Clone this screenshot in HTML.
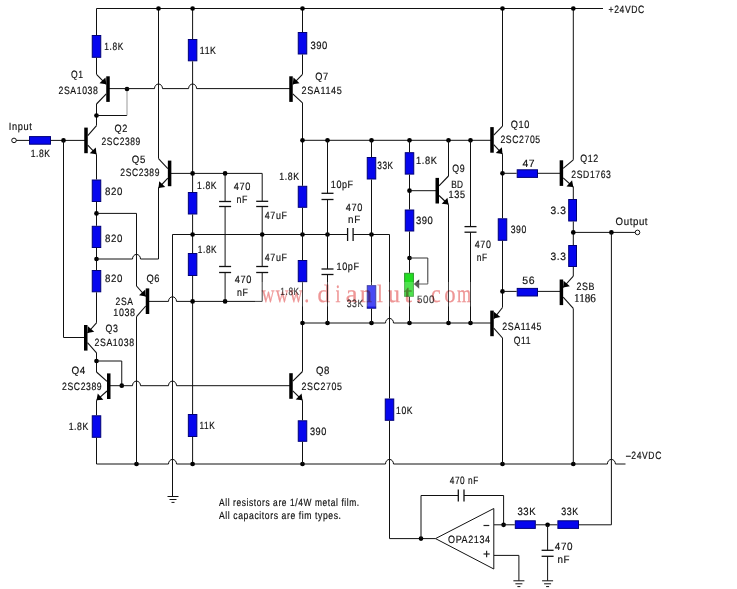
<!DOCTYPE html>
<html><head><meta charset="utf-8"><style>
html,body{margin:0;padding:0;background:#fff;}
body{width:737px;height:589px;overflow:hidden;}
svg{display:block;}
text{text-rendering:geometricPrecision;}

</style></head><body>
<svg width="737" height="589" viewBox="0 0 737 589">
<rect width="737" height="589" fill="#fff"/>
<polyline points="96.5,8.5 603,8.5" fill="none" stroke="#111" stroke-width="1.0"/>
<polyline points="96.5,8.5 96.5,35" fill="none" stroke="#111" stroke-width="1.0"/>
<rect x="92.25" y="35.5" width="8.5" height="21.799999999999997" fill="#0606ee" stroke="#000078" stroke-width="1"/>
<polyline points="96.5,57.8 96.5,74.3" fill="none" stroke="#111" stroke-width="1.0"/>
<polyline points="96.5,104 96.5,125.6" fill="none" stroke="#111" stroke-width="1.0"/>
<circle cx="96.5" cy="115.5" r="2.35" fill="#000"/>
<polyline points="96.5,115.5 127,115.5" fill="none" stroke="#111" stroke-width="1.0"/>
<polyline points="127,115.5 127,89" fill="none" stroke="#999" stroke-width="1.0"/>
<circle cx="127" cy="89" r="2.35" fill="#000"/>
<polyline points="108,88.6 154.5,88.6" fill="none" stroke="#111" stroke-width="1.0"/>
<polyline points="162.5,88.6 188.6,88.6" fill="none" stroke="#111" stroke-width="1.0"/>
<polyline points="196.6,88.6 291,88.6" fill="none" stroke="#111" stroke-width="1.0"/>
<path d="M154.5,88.6 A4,4.6 0 0 1 162.5,88.6" fill="none" stroke="#111" stroke-width="1"/>
<path d="M188.6,88.6 A4,4.6 0 0 1 196.6,88.6" fill="none" stroke="#111" stroke-width="1"/>
<polyline points="158.5,8.5 158.5,158.6" fill="none" stroke="#111" stroke-width="1.0"/>
<polyline points="192.6,8.5 192.6,39" fill="none" stroke="#111" stroke-width="1.0"/>
<rect x="188.35" y="39.5" width="8.5" height="21.299999999999997" fill="#0606ee" stroke="#000078" stroke-width="1"/>
<polyline points="192.6,61.3 192.6,192" fill="none" stroke="#111" stroke-width="1.0"/>
<rect x="188.35" y="192.5" width="8.5" height="21.5" fill="#0606ee" stroke="#000078" stroke-width="1"/>
<polyline points="192.6,214.5 192.6,253" fill="none" stroke="#111" stroke-width="1.0"/>
<rect x="188.35" y="253.5" width="8.5" height="22" fill="#0606ee" stroke="#000078" stroke-width="1"/>
<polyline points="192.6,276 192.6,414" fill="none" stroke="#111" stroke-width="1.0"/>
<rect x="188.35" y="414.5" width="8.5" height="22" fill="#0606ee" stroke="#000078" stroke-width="1"/>
<polyline points="192.6,437 192.6,464.0" fill="none" stroke="#111" stroke-width="1.0"/>
<polyline points="96.5,154.3 96.5,179.5" fill="none" stroke="#111" stroke-width="1.0"/>
<rect x="92.25" y="180.0" width="8.5" height="21.5" fill="#0606ee" stroke="#000078" stroke-width="1"/>
<polyline points="96.5,202 96.5,225.8" fill="none" stroke="#111" stroke-width="1.0"/>
<rect x="92.25" y="226.3" width="8.5" height="21.19999999999999" fill="#0606ee" stroke="#000078" stroke-width="1"/>
<polyline points="96.5,248 96.5,270" fill="none" stroke="#111" stroke-width="1.0"/>
<rect x="92.25" y="270.5" width="8.5" height="21.30000000000001" fill="#0606ee" stroke="#000078" stroke-width="1"/>
<polyline points="96.5,292.3 96.5,322.8" fill="none" stroke="#111" stroke-width="1.0"/>
<circle cx="96.5" cy="213.4" r="2.35" fill="#000"/>
<circle cx="96.5" cy="259.0" r="2.35" fill="#000"/>
<polyline points="96.5,213.4 136.5,213.4 136.5,286" fill="none" stroke="#111" stroke-width="1.0"/>
<polyline points="96.5,259.0 132.5,259.0" fill="none" stroke="#111" stroke-width="1.0"/>
<polyline points="140.5,259.0 158.5,259.0" fill="none" stroke="#111" stroke-width="1.0"/>
<path d="M132.5,259.0 A4,4.6 0 0 1 140.5,259.0" fill="none" stroke="#111" stroke-width="1"/>
<polyline points="158.5,259.0 158.5,188" fill="none" stroke="#111" stroke-width="1.0"/>
<circle cx="14" cy="140.4" r="2.3" fill="#fff" stroke="#111" stroke-width="1"/>
<polyline points="16.3,140.4 29,140.4" fill="none" stroke="#111" stroke-width="1.0"/>
<rect x="29.5" y="136.6" width="21" height="7.6" fill="#0606ee" stroke="#000078" stroke-width="1"/>
<polyline points="51,140.4 86,140.4" fill="none" stroke="#111" stroke-width="1.0"/>
<circle cx="63.5" cy="140.4" r="2.35" fill="#000"/>
<polyline points="63.5,140.4 63.5,337.5 85,337.5" fill="none" stroke="#111" stroke-width="1.0"/>
<polyline points="96.5,352.8 96.5,372" fill="none" stroke="#111" stroke-width="1.0"/>
<circle cx="96.5" cy="361" r="2.35" fill="#000"/>
<polyline points="96.5,361 121.75,361 121.75,385.7" fill="none" stroke="#111" stroke-width="1.0"/>
<circle cx="121.75" cy="385.7" r="2.35" fill="#000"/>
<polyline points="108.75,385.7 132.5,385.7" fill="none" stroke="#111" stroke-width="1.0"/>
<polyline points="140.5,385.7 168.5,385.7" fill="none" stroke="#111" stroke-width="1.0"/>
<polyline points="176.5,385.7 291,385.7" fill="none" stroke="#111" stroke-width="1.0"/>
<path d="M132.5,385.7 A4,4.6 0 0 1 140.5,385.7" fill="none" stroke="#111" stroke-width="1"/>
<path d="M168.5,385.7 A4,4.6 0 0 1 176.5,385.7" fill="none" stroke="#111" stroke-width="1"/>
<polyline points="96.5,400.3 96.5,415.3" fill="none" stroke="#111" stroke-width="1.0"/>
<rect x="92.25" y="415.8" width="8.5" height="21.5" fill="#0606ee" stroke="#000078" stroke-width="1"/>
<polyline points="96.5,437.8 96.5,464.0" fill="none" stroke="#111" stroke-width="1.0"/>
<polyline points="96.5,464.0 168.5,464.0" fill="none" stroke="#111" stroke-width="1.0"/>
<polyline points="176.5,464.0 385.5,464.0" fill="none" stroke="#111" stroke-width="1.0"/>
<polyline points="393.5,464.0 607.4,464.0" fill="none" stroke="#111" stroke-width="1.0"/>
<polyline points="615.4,464.0 625.5,464.0" fill="none" stroke="#111" stroke-width="1.0"/>
<path d="M168.5,464.0 A4,4.6 0 0 1 176.5,464.0" fill="none" stroke="#111" stroke-width="1"/>
<path d="M385.5,464.0 A4,4.6 0 0 1 393.5,464.0" fill="none" stroke="#111" stroke-width="1"/>
<path d="M607.4,464.0 A4,4.6 0 0 1 615.4,464.0" fill="none" stroke="#111" stroke-width="1"/>
<circle cx="136.5" cy="464.0" r="2.35" fill="#000"/>
<circle cx="192.6" cy="464.0" r="2.35" fill="#000"/>
<circle cx="302.5" cy="464.0" r="2.35" fill="#000"/>
<circle cx="502.5" cy="464.0" r="2.35" fill="#000"/>
<circle cx="573.3" cy="464.0" r="2.35" fill="#000"/>
<polyline points="136.5,316.6 136.5,464.0" fill="none" stroke="#111" stroke-width="1.0"/>
<polyline points="172.5,234.5 172.5,496.5" fill="none" stroke="#111" stroke-width="1.0"/>
<line x1="167.5" y1="496.5" x2="178.5" y2="496.5" stroke="#111" stroke-width="1"/>
<line x1="169.5" y1="499.5" x2="176.5" y2="499.5" stroke="#111" stroke-width="1"/>
<line x1="171.5" y1="502.4" x2="174.5" y2="502.4" stroke="#111" stroke-width="1"/>
<polyline points="147.5,301.4 168.5,301.4" fill="none" stroke="#111" stroke-width="1.0"/>
<polyline points="176.5,301.4 262.2,301.4" fill="none" stroke="#111" stroke-width="1.0"/>
<path d="M168.5,301.4 A4,4.6 0 0 1 176.5,301.4" fill="none" stroke="#111" stroke-width="1"/>
<circle cx="192.6" cy="301.4" r="2.35" fill="#000"/>
<circle cx="225.1" cy="301.4" r="2.35" fill="#000"/>
<polyline points="262.2,301.4 262.2,272.5" fill="none" stroke="#111" stroke-width="1.0"/>
<polyline points="169.6,173.4 262.2,173.4 262.2,201.3" fill="none" stroke="#111" stroke-width="1.0"/>
<circle cx="192.6" cy="173.4" r="2.35" fill="#000"/>
<circle cx="225.1" cy="173.4" r="2.35" fill="#000"/>
<polyline points="225.1,173.4 225.1,201.5" fill="none" stroke="#111" stroke-width="1.0"/>
<line x1="219.1" y1="201.5" x2="231.1" y2="201.5" stroke="#111" stroke-width="1.3"/>
<line x1="219.1" y1="206.5" x2="231.1" y2="206.5" stroke="#111" stroke-width="1.3"/>
<polyline points="225.1,206.5 225.1,266.5" fill="none" stroke="#111" stroke-width="1.0"/>
<line x1="219.1" y1="266.5" x2="231.1" y2="266.5" stroke="#111" stroke-width="1.3"/>
<line x1="219.1" y1="272.5" x2="231.1" y2="272.5" stroke="#111" stroke-width="1.3"/>
<polyline points="225.1,272.5 225.1,301.4" fill="none" stroke="#111" stroke-width="1.0"/>
<line x1="256.2" y1="201.3" x2="268.2" y2="201.3" stroke="#111" stroke-width="1.3"/>
<line x1="256.2" y1="206.5" x2="268.2" y2="206.5" stroke="#111" stroke-width="1.3"/>
<polyline points="262.2,206.5 262.2,266.5" fill="none" stroke="#111" stroke-width="1.0"/>
<line x1="256.2" y1="266.5" x2="268.2" y2="266.5" stroke="#111" stroke-width="1.3"/>
<line x1="256.2" y1="272.5" x2="268.2" y2="272.5" stroke="#111" stroke-width="1.3"/>
<polyline points="172.5,234.5 347.6,234.5" fill="none" stroke="#111" stroke-width="1.0"/>
<line x1="347.6" y1="228.0" x2="347.6" y2="241.0" stroke="#111" stroke-width="1.3"/>
<line x1="353.1" y1="228.0" x2="353.1" y2="241.0" stroke="#111" stroke-width="1.3"/>
<polyline points="353.1,234.5 389.5,234.5 389.5,398.5" fill="none" stroke="#111" stroke-width="1.0"/>
<circle cx="192.6" cy="234.5" r="2.35" fill="#000"/>
<circle cx="262.2" cy="234.5" r="2.35" fill="#000"/>
<circle cx="302.5" cy="234.5" r="2.35" fill="#000"/>
<circle cx="327.5" cy="234.5" r="2.35" fill="#000"/>
<circle cx="371.5" cy="234.5" r="2.35" fill="#000"/>
<rect x="385.25" y="399.0" width="8.5" height="21.30000000000001" fill="#0606ee" stroke="#000078" stroke-width="1"/>
<polyline points="389.5,420.8 389.5,538.6 435.5,538.6" fill="none" stroke="#111" stroke-width="1.0"/>
<circle cx="421" cy="538.6" r="2.35" fill="#000"/>
<polyline points="302.5,8.5 302.5,32" fill="none" stroke="#111" stroke-width="1.0"/>
<rect x="298.25" y="32.5" width="8.5" height="21.5" fill="#0606ee" stroke="#000078" stroke-width="1"/>
<polyline points="302.5,54.5 302.5,74.3" fill="none" stroke="#111" stroke-width="1.0"/>
<polyline points="302.5,102.8 302.5,185.8" fill="none" stroke="#111" stroke-width="1.0"/>
<rect x="298.25" y="186.3" width="8.5" height="21.0" fill="#0606ee" stroke="#000078" stroke-width="1"/>
<polyline points="302.5,207.8 302.5,260" fill="none" stroke="#111" stroke-width="1.0"/>
<rect x="298.25" y="260.5" width="8.5" height="21.19999999999999" fill="#0606ee" stroke="#000078" stroke-width="1"/>
<polyline points="302.5,282.2 302.5,371.5" fill="none" stroke="#111" stroke-width="1.0"/>
<polyline points="302.5,400.3 302.5,420.3" fill="none" stroke="#111" stroke-width="1.0"/>
<rect x="298.25" y="420.8" width="8.5" height="20.5" fill="#0606ee" stroke="#000078" stroke-width="1"/>
<polyline points="302.5,441.8 302.5,464.0" fill="none" stroke="#111" stroke-width="1.0"/>
<polyline points="302.5,140.3 491,140.3" fill="none" stroke="#111" stroke-width="1.0"/>
<circle cx="302.5" cy="140.3" r="2.35" fill="#000"/>
<circle cx="327.5" cy="140.3" r="2.35" fill="#000"/>
<circle cx="371.5" cy="140.3" r="2.35" fill="#000"/>
<circle cx="409.5" cy="140.3" r="2.35" fill="#000"/>
<circle cx="448.5" cy="140.3" r="2.35" fill="#000"/>
<circle cx="470.5" cy="140.3" r="2.35" fill="#000"/>
<polyline points="302.5,323.0 385.5,323.0" fill="none" stroke="#111" stroke-width="1.0"/>
<polyline points="393.5,323.0 491,323.0" fill="none" stroke="#111" stroke-width="1.0"/>
<path d="M385.5,323.0 A4,4.6 0 0 1 393.5,323.0" fill="none" stroke="#111" stroke-width="1"/>
<circle cx="302.5" cy="323.0" r="2.35" fill="#000"/>
<circle cx="327.5" cy="323.0" r="2.35" fill="#000"/>
<circle cx="371.5" cy="323.0" r="2.35" fill="#000"/>
<circle cx="409.5" cy="323.0" r="2.35" fill="#000"/>
<circle cx="448.5" cy="323.0" r="2.35" fill="#000"/>
<circle cx="470.5" cy="323.0" r="2.35" fill="#000"/>
<polyline points="327.5,140.3 327.5,193.3" fill="none" stroke="#111" stroke-width="1.0"/>
<line x1="321.5" y1="193.3" x2="333.5" y2="193.3" stroke="#111" stroke-width="1.3"/>
<line x1="321.5" y1="199.5" x2="333.5" y2="199.5" stroke="#111" stroke-width="1.3"/>
<polyline points="327.5,199.5 327.5,269" fill="none" stroke="#111" stroke-width="1.0"/>
<line x1="321.5" y1="269" x2="333.5" y2="269" stroke="#111" stroke-width="1.3"/>
<line x1="321.5" y1="274.5" x2="333.5" y2="274.5" stroke="#111" stroke-width="1.3"/>
<polyline points="327.5,274.5 327.5,323.0" fill="none" stroke="#111" stroke-width="1.0"/>
<polyline points="371.5,140.3 371.5,157" fill="none" stroke="#111" stroke-width="1.0"/>
<rect x="367.25" y="157.5" width="8.5" height="21.5" fill="#0606ee" stroke="#000078" stroke-width="1"/>
<polyline points="371.5,179.5 371.5,285.2" fill="none" stroke="#111" stroke-width="1.0"/>
<rect x="367.25" y="285.7" width="8.5" height="22.5" fill="#1c1cf0" stroke="#10108a" stroke-width="1"/>
<polyline points="371.5,308.7 371.5,323.0" fill="none" stroke="#111" stroke-width="1.0"/>
<polyline points="409.5,140.3 409.5,152.2" fill="none" stroke="#111" stroke-width="1.0"/>
<rect x="405.25" y="152.7" width="8.5" height="21.400000000000006" fill="#0606ee" stroke="#000078" stroke-width="1"/>
<polyline points="409.5,174.6 409.5,209.5" fill="none" stroke="#111" stroke-width="1.0"/>
<circle cx="409.5" cy="190.7" r="2.35" fill="#000"/>
<polyline points="409.5,190.7 436,190.7" fill="none" stroke="#111" stroke-width="1.0"/>
<rect x="405.25" y="210.0" width="8.5" height="21.0" fill="#0606ee" stroke="#000078" stroke-width="1"/>
<polyline points="409.5,231.5 409.5,272.8" fill="none" stroke="#111" stroke-width="1.0"/>
<circle cx="409.5" cy="258" r="2.35" fill="#000"/>
<rect x="404.6" y="273.3" width="8.8" height="23" fill="#22dd22" stroke="#2a9a2a" stroke-width="1"/>
<polyline points="409.5,296.8 409.5,323.0" fill="none" stroke="#111" stroke-width="1.0"/>
<polyline points="409.5,258 427.8,258 427.8,284 418,284" fill="none" stroke="#333" stroke-width="1.0"/>
<polygon points="413.8,284 419.2,279.2 419.2,288.8" fill="#333"/>
<polyline points="448.5,140.3 448.5,176" fill="none" stroke="#111" stroke-width="1.0"/>
<polyline points="448.5,204.5 448.5,323.0" fill="none" stroke="#111" stroke-width="1.0"/>
<polyline points="470.5,140.3 470.5,226.6" fill="none" stroke="#111" stroke-width="1.0"/>
<line x1="464.5" y1="226.6" x2="476.5" y2="226.6" stroke="#111" stroke-width="1.3"/>
<line x1="464.5" y1="232.2" x2="476.5" y2="232.2" stroke="#111" stroke-width="1.3"/>
<polyline points="470.5,232.2 470.5,323.0" fill="none" stroke="#111" stroke-width="1.0"/>
<polyline points="502.5,8.5 502.5,126.1" fill="none" stroke="#111" stroke-width="1.0"/>
<polyline points="502.5,154.1 502.5,218.3" fill="none" stroke="#111" stroke-width="1.0"/>
<rect x="498.25" y="218.8" width="8.5" height="21.5" fill="#0606ee" stroke="#000078" stroke-width="1"/>
<polyline points="502.5,240.8 502.5,307.5" fill="none" stroke="#111" stroke-width="1.0"/>
<polyline points="502.5,338 502.5,464.0" fill="none" stroke="#111" stroke-width="1.0"/>
<circle cx="502.5" cy="173.3" r="2.35" fill="#000"/>
<circle cx="502.5" cy="291.4" r="2.35" fill="#000"/>
<polyline points="502.5,173.3 516.7,173.3" fill="none" stroke="#111" stroke-width="1.0"/>
<rect x="517.2" y="169.79999999999998" width="20.299999999999955" height="7.6" fill="#0606ee" stroke="#000078" stroke-width="1"/>
<polyline points="538,173.3 560,173.3" fill="none" stroke="#111" stroke-width="1.0"/>
<polyline points="502.5,291.4 516.7,291.4" fill="none" stroke="#111" stroke-width="1.0"/>
<rect x="517.2" y="288.4" width="20.299999999999955" height="7.6" fill="#0606ee" stroke="#000078" stroke-width="1"/>
<polyline points="538,291.4 560,291.4" fill="none" stroke="#111" stroke-width="1.0"/>
<polyline points="573.3,8.5 573.3,159.8" fill="none" stroke="#111" stroke-width="1.0"/>
<polyline points="573.3,187 573.3,199" fill="none" stroke="#111" stroke-width="1.0"/>
<rect x="568.7" y="199.5" width="7.800000000000001" height="21.5" fill="#0606ee" stroke="#000078" stroke-width="1"/>
<polyline points="573.3,221.5 573.3,245" fill="none" stroke="#111" stroke-width="1.0"/>
<rect x="568.7" y="245.5" width="7.800000000000001" height="21" fill="#0606ee" stroke="#000078" stroke-width="1"/>
<polyline points="573.3,267 573.3,276.1" fill="none" stroke="#111" stroke-width="1.0"/>
<polyline points="573.3,308.4 573.3,464.0" fill="none" stroke="#111" stroke-width="1.0"/>
<circle cx="573.3" cy="8.5" r="2.35" fill="#000"/>
<polyline points="573.3,232.4 635.2,232.4" fill="none" stroke="#111" stroke-width="1.0"/>
<circle cx="573.3" cy="232.4" r="2.35" fill="#000"/>
<circle cx="611.4" cy="232.4" r="2.35" fill="#000"/>
<circle cx="637.5" cy="232.4" r="2.3" fill="#fff" stroke="#111" stroke-width="1"/>
<polyline points="611.4,232.4 611.4,524.8 579,524.8" fill="none" stroke="#111" stroke-width="1.0"/>
<circle cx="158.5" cy="8.5" r="2.35" fill="#000"/>
<circle cx="192.6" cy="8.5" r="2.35" fill="#000"/>
<circle cx="302.5" cy="8.5" r="2.35" fill="#000"/>
<circle cx="502.5" cy="8.5" r="2.35" fill="#000"/>
<rect x="106.25" y="76.3" width="3.5" height="25.6" fill="#000"/>
<polyline points="106.25,84.3 96.5,74.3" fill="none" stroke="#111" stroke-width="1.1"/>
<polyline points="106.25,93.89999999999999 96.5,104.0" fill="none" stroke="#111" stroke-width="1.1"/>
<polygon points="106.25,84.3 99.47305867849632,83.36561981779583 105.48745985130465,77.50157867430771" fill="#000"/>
<rect x="84.25" y="127.60000000000001" width="3.5" height="25.6" fill="#000"/>
<polyline points="87.75,135.6 96.5,125.6" fill="none" stroke="#111" stroke-width="1.1"/>
<polyline points="87.75,145.20000000000002 96.5,154.3" fill="none" stroke="#111" stroke-width="1.1"/>
<polygon points="96.5,154.3 89.72971405965257,153.3185580577875 95.78471180482816,147.4964448412725" fill="#000"/>
<rect x="167.85" y="160.6" width="3.5" height="25.6" fill="#000"/>
<polyline points="167.85,168.6 158.5,158.6" fill="none" stroke="#111" stroke-width="1.1"/>
<polyline points="167.85,178.20000000000002 158.5,188" fill="none" stroke="#111" stroke-width="1.1"/>
<polygon points="158.5,188 159.18882355547493,181.1937145145518 165.26641788416669,186.99223563427307" fill="#000"/>
<rect x="289.25" y="76.3" width="3.5" height="25.6" fill="#000"/>
<polyline points="292.75,84.3 302.5,74.3" fill="none" stroke="#111" stroke-width="1.1"/>
<polyline points="292.75,93.89999999999999 302.5,102.8" fill="none" stroke="#111" stroke-width="1.1"/>
<polygon points="292.75,84.3 293.51254014869534,77.50157867430771 299.52694132150367,83.36561981779583" fill="#000"/>
<rect x="145.75" y="288.4" width="3.5" height="25.6" fill="#000"/>
<polyline points="145.75,296.4 136.5,286" fill="none" stroke="#111" stroke-width="1.1"/>
<polyline points="145.75,306.0 136.5,316.6" fill="none" stroke="#111" stroke-width="1.1"/>
<polygon points="145.75,296.4 139.022944807635,295.15632462480147 145.29951793168718,289.5737956442743" fill="#000"/>
<rect x="84.0" y="325.0" width="3.5" height="25.6" fill="#000"/>
<polyline points="87.5,333.0 96.5,322.8" fill="none" stroke="#111" stroke-width="1.1"/>
<polyline points="87.5,342.6 96.5,352.8" fill="none" stroke="#111" stroke-width="1.1"/>
<polygon points="87.5,333.0 87.92343784773558,326.1720647052638 94.22207583280235,331.7296864567933" fill="#000"/>
<rect x="107.0" y="373.4" width="3.5" height="25.6" fill="#000"/>
<polyline points="107.0,381.4 96.5,372" fill="none" stroke="#111" stroke-width="1.1"/>
<polyline points="107.0,391.0 96.5,400.3" fill="none" stroke="#111" stroke-width="1.1"/>
<polygon points="96.5,400.3 97.7576281426909,393.57553931867307 103.32712420317925,399.86368003212766" fill="#000"/>
<rect x="289.25" y="373.2" width="3.5" height="25.6" fill="#000"/>
<polyline points="292.75,381.2 302.5,371.5" fill="none" stroke="#111" stroke-width="1.1"/>
<polyline points="292.75,390.8 302.5,400.3" fill="none" stroke="#111" stroke-width="1.1"/>
<polygon points="302.5,400.3 295.7013283709937,399.5396947448923 301.56339207704127,393.52336620447505" fill="#000"/>
<rect x="435.5" y="177.89999999999998" width="3.5" height="25.6" fill="#000"/>
<polyline points="439.0,185.89999999999998 448.5,176" fill="none" stroke="#111" stroke-width="1.1"/>
<polyline points="439.0,195.5 448.5,204.5" fill="none" stroke="#111" stroke-width="1.1"/>
<polygon points="448.5,204.5 441.69132798568324,203.83518017368624 447.4683830281338,197.7371776288773" fill="#000"/>
<rect x="490.25" y="127.10000000000001" width="3.5" height="25.6" fill="#000"/>
<polyline points="493.75,135.1 502.5,126.1" fill="none" stroke="#111" stroke-width="1.1"/>
<polyline points="493.75,144.70000000000002 502.5,154.1" fill="none" stroke="#111" stroke-width="1.1"/>
<polygon points="502.5,154.1 495.7464924199799,153.0090667451161 501.89496421195946,147.2857552366245" fill="#000"/>
<rect x="559.65" y="160.29999999999998" width="3.5" height="25.6" fill="#000"/>
<polyline points="563.15,168.29999999999998 573.3,159.8" fill="none" stroke="#111" stroke-width="1.1"/>
<polyline points="563.15,177.9 573.3,187" fill="none" stroke="#111" stroke-width="1.1"/>
<polygon points="573.3,187 566.4756359543504,186.52244856565432 572.0830140866675,180.26806526422382" fill="#000"/>
<rect x="559.65" y="279.5" width="3.5" height="25.6" fill="#000"/>
<polyline points="563.15,287.5 573.3,276.1" fill="none" stroke="#111" stroke-width="1.1"/>
<polyline points="563.15,297.1 573.3,308.4" fill="none" stroke="#111" stroke-width="1.1"/>
<polygon points="563.15,287.5 563.6040164452756,280.67402980760835 569.8776982345398,286.2598078919093" fill="#000"/>
<rect x="490.25" y="310.59999999999997" width="3.5" height="25.6" fill="#000"/>
<polyline points="493.75,318.59999999999997 502.5,307.5" fill="none" stroke="#111" stroke-width="1.1"/>
<polyline points="493.75,328.2 502.5,338" fill="none" stroke="#111" stroke-width="1.1"/>
<polygon points="493.75,318.59999999999997 493.79457308537036,311.7590926595911 500.3913897201798,316.95928595279673" fill="#000"/>
<polyline points="421,538.6 421,495.5 458.3,495.5" fill="none" stroke="#111" stroke-width="1.0"/>
<line x1="458.3" y1="489.5" x2="458.3" y2="501.5" stroke="#111" stroke-width="1.3"/>
<line x1="464.0" y1="489.5" x2="464.0" y2="501.5" stroke="#111" stroke-width="1.3"/>
<polyline points="464.0,495.5 503.6,495.5 503.6,524.8" fill="none" stroke="#111" stroke-width="1.0"/>
<circle cx="503.6" cy="524.8" r="2.35" fill="#000"/>
<polyline points="493.8,524.8 514.8,524.8" fill="none" stroke="#111" stroke-width="1.0"/>
<rect x="515.3" y="520.8000000000001" width="20.0" height="7.6" fill="#0606ee" stroke="#000078" stroke-width="1"/>
<polyline points="535.8,524.8 557.4,524.8" fill="none" stroke="#111" stroke-width="1.0"/>
<rect x="557.9" y="520.8000000000001" width="20.600000000000023" height="7.6" fill="#0606ee" stroke="#000078" stroke-width="1"/>
<circle cx="547.6" cy="524.8" r="2.35" fill="#000"/>
<polyline points="547.6,524.8 547.6,550.3" fill="none" stroke="#111" stroke-width="1.0"/>
<line x1="541.6" y1="550.3" x2="553.6" y2="550.3" stroke="#111" stroke-width="1.3"/>
<line x1="541.6" y1="556.3" x2="553.6" y2="556.3" stroke="#111" stroke-width="1.3"/>
<polyline points="547.6,556.3 547.6,580.8" fill="none" stroke="#111" stroke-width="1.0"/>
<polyline points="493.8,555.4 518.9,555.4 518.9,580.8" fill="none" stroke="#111" stroke-width="1.0"/>
<line x1="513.4" y1="580.8" x2="524.4" y2="580.8" stroke="#111" stroke-width="1"/>
<line x1="515.4" y1="583.8" x2="522.4" y2="583.8" stroke="#111" stroke-width="1"/>
<line x1="517.4" y1="586.6" x2="520.4" y2="586.6" stroke="#111" stroke-width="1"/>
<line x1="542.1" y1="580.8" x2="553.1" y2="580.8" stroke="#111" stroke-width="1"/>
<line x1="544.1" y1="583.8" x2="551.1" y2="583.8" stroke="#111" stroke-width="1"/>
<line x1="546.1" y1="586.6" x2="549.1" y2="586.6" stroke="#111" stroke-width="1"/>
<polygon points="435.5,538.6 493.8,508.5 493.8,569" fill="#fff" stroke="#111" stroke-width="1"/>
<text transform="translate(608.58,13.1) scale(0.8114,1)" font-family='"Liberation Sans", sans-serif' font-size="10.6" letter-spacing="0.739" fill="#111" stroke="#111" stroke-width="0.18">+24VDC</text>
<text transform="translate(104.27,49.5) scale(0.7855,1)" font-family='"Liberation Sans", sans-serif' font-size="10.6" letter-spacing="0.764" fill="#111" stroke="#111" stroke-width="0.18">1.8K</text>
<text transform="translate(70.89,78.39999999999999) scale(0.8079,1)" font-family='"Liberation Sans", sans-serif' font-size="10.6" letter-spacing="0.743" fill="#111" stroke="#111" stroke-width="0.18">Q1</text>
<text transform="translate(58.56,93.89999999999999) scale(0.8188,1)" font-family='"Liberation Sans", sans-serif' font-size="10.6" letter-spacing="0.733" fill="#111" stroke="#111" stroke-width="0.18">2SA1038</text>
<text transform="translate(199.83,53.6) scale(0.8252,1)" font-family='"Liberation Sans", sans-serif' font-size="10.6" letter-spacing="0.727" fill="#111" stroke="#111" stroke-width="0.18">11K</text>
<text transform="translate(310.39,48.6) scale(0.8922,1)" font-family='"Liberation Sans", sans-serif' font-size="10.6" letter-spacing="0.672" fill="#111" stroke="#111" stroke-width="0.18">390</text>
<text transform="translate(315.31,79.6) scale(0.8699,1)" font-family='"Liberation Sans", sans-serif' font-size="10.6" letter-spacing="0.690" fill="#111" stroke="#111" stroke-width="0.18">Q7</text>
<text transform="translate(301.54,93.89999999999999) scale(0.8537,1)" font-family='"Liberation Sans", sans-serif' font-size="10.6" letter-spacing="0.703" fill="#111" stroke="#111" stroke-width="0.18">2SA1145</text>
<text transform="translate(8.84,130.1) scale(0.8748,1)" font-family='"Liberation Sans", sans-serif' font-size="10.6" letter-spacing="0.686" fill="#111" stroke="#111" stroke-width="0.18">Input</text>
<text transform="translate(30.65,156.6) scale(0.8046,1)" font-family='"Liberation Sans", sans-serif' font-size="10.6" letter-spacing="0.746" fill="#111" stroke="#111" stroke-width="0.18">1.8K</text>
<text transform="translate(114.47,132.2) scale(0.8623,1)" font-family='"Liberation Sans", sans-serif' font-size="10.6" letter-spacing="0.696" fill="#111" stroke="#111" stroke-width="0.18">Q2</text>
<text transform="translate(101.48,145.1) scale(0.7969,1)" font-family='"Liberation Sans", sans-serif' font-size="10.6" letter-spacing="0.753" fill="#111" stroke="#111" stroke-width="0.18">2SC2389</text>
<text transform="translate(131.84,162.6) scale(0.9096,1)" font-family='"Liberation Sans", sans-serif' font-size="10.6" letter-spacing="0.660" fill="#111" stroke="#111" stroke-width="0.18">Q5</text>
<text transform="translate(120.37,175.6) scale(0.8016,1)" font-family='"Liberation Sans", sans-serif' font-size="10.6" letter-spacing="0.749" fill="#111" stroke="#111" stroke-width="0.18">2SC2389</text>
<text transform="translate(105.08,194.6) scale(0.9101,1)" font-family='"Liberation Sans", sans-serif' font-size="10.6" letter-spacing="0.659" fill="#111" stroke="#111" stroke-width="0.18">820</text>
<text transform="translate(105.08,241.6) scale(0.9101,1)" font-family='"Liberation Sans", sans-serif' font-size="10.6" letter-spacing="0.659" fill="#111" stroke="#111" stroke-width="0.18">820</text>
<text transform="translate(105.08,281.6) scale(0.9101,1)" font-family='"Liberation Sans", sans-serif' font-size="10.6" letter-spacing="0.659" fill="#111" stroke="#111" stroke-width="0.18">820</text>
<text transform="translate(146.46,281.6) scale(0.8806,1)" font-family='"Liberation Sans", sans-serif' font-size="10.6" letter-spacing="0.681" fill="#111" stroke="#111" stroke-width="0.18">Q6</text>
<text transform="translate(115.57,305.1) scale(0.8059,1)" font-family='"Liberation Sans", sans-serif' font-size="10.6" letter-spacing="0.745" fill="#111" stroke="#111" stroke-width="0.18">2SA</text>
<text transform="translate(113.32,315.6) scale(0.8426,1)" font-family='"Liberation Sans", sans-serif' font-size="10.6" letter-spacing="0.712" fill="#111" stroke="#111" stroke-width="0.18">1038</text>
<text transform="translate(197.09,189.29999999999998) scale(0.8118,1)" font-family='"Liberation Sans", sans-serif' font-size="10.6" letter-spacing="0.739" fill="#111" stroke="#111" stroke-width="0.18">1.8K</text>
<text transform="translate(233.79,190.1) scale(0.8691,1)" font-family='"Liberation Sans", sans-serif' font-size="10.6" letter-spacing="0.690" fill="#111" stroke="#111" stroke-width="0.18">470</text>
<text transform="translate(236.41,203.1) scale(0.8362,1)" font-family='"Liberation Sans", sans-serif' font-size="10.6" letter-spacing="0.718" fill="#111" stroke="#111" stroke-width="0.18">nF</text>
<text transform="translate(264.80,219.29999999999998) scale(0.8386,1)" font-family='"Liberation Sans", sans-serif' font-size="10.6" letter-spacing="0.716" fill="#111" stroke="#111" stroke-width="0.18">47uF</text>
<text transform="translate(197.87,253.1) scale(0.7800,1)" font-family='"Liberation Sans", sans-serif' font-size="10.6" letter-spacing="0.733" fill="#111" stroke="#111" stroke-width="0.18">1.8K</text>
<text transform="translate(264.80,260.6) scale(0.8386,1)" font-family='"Liberation Sans", sans-serif' font-size="10.6" letter-spacing="0.716" fill="#111" stroke="#111" stroke-width="0.18">47uF</text>
<text transform="translate(234.79,283.1) scale(0.8691,1)" font-family='"Liberation Sans", sans-serif' font-size="10.6" letter-spacing="0.690" fill="#111" stroke="#111" stroke-width="0.18">470</text>
<text transform="translate(236.91,296.1) scale(0.8362,1)" font-family='"Liberation Sans", sans-serif' font-size="10.6" letter-spacing="0.718" fill="#111" stroke="#111" stroke-width="0.18">nF</text>
<text transform="translate(279.33,180.1) scale(0.8238,1)" font-family='"Liberation Sans", sans-serif' font-size="10.6" letter-spacing="0.728" fill="#111" stroke="#111" stroke-width="0.18">1.8K</text>
<text transform="translate(280.37,295.1) scale(0.7800,1)" font-family='"Liberation Sans", sans-serif' font-size="10.6" letter-spacing="0.733" fill="#111" stroke="#111" stroke-width="0.18">1.8K</text>
<text transform="translate(330.82,187.6) scale(0.8483,1)" font-family='"Liberation Sans", sans-serif' font-size="10.6" letter-spacing="0.707" fill="#111" stroke="#111" stroke-width="0.18">10pF</text>
<text transform="translate(336.51,270.3) scale(0.8592,1)" font-family='"Liberation Sans", sans-serif' font-size="10.6" letter-spacing="0.698" fill="#111" stroke="#111" stroke-width="0.18">10pF</text>
<text transform="translate(345.79,210.6) scale(0.8691,1)" font-family='"Liberation Sans", sans-serif' font-size="10.6" letter-spacing="0.690" fill="#111" stroke="#111" stroke-width="0.18">470</text>
<text transform="translate(348.04,222.79999999999998) scale(0.9340,1)" font-family='"Liberation Sans", sans-serif' font-size="10.6" letter-spacing="0.642" fill="#111" stroke="#111" stroke-width="0.18">nF</text>
<text transform="translate(377.19,168.6) scale(0.7800,1)" font-family='"Liberation Sans", sans-serif' font-size="10.6" letter-spacing="0.767" fill="#111" stroke="#111" stroke-width="0.18">33K</text>
<text transform="translate(346.67,307.20000000000005) scale(0.8125,1)" font-family='"Liberation Sans", sans-serif' font-size="10.6" letter-spacing="0.738" fill="#111" stroke="#111" stroke-width="0.18">33K</text>
<text transform="translate(416.05,164.29999999999998) scale(0.8717,1)" font-family='"Liberation Sans", sans-serif' font-size="10.6" letter-spacing="0.688" fill="#111" stroke="#111" stroke-width="0.18">1.8K</text>
<text transform="translate(415.89,223.6) scale(0.8922,1)" font-family='"Liberation Sans", sans-serif' font-size="10.6" letter-spacing="0.672" fill="#111" stroke="#111" stroke-width="0.18">390</text>
<text transform="translate(452.28,172.4) scale(0.8298,1)" font-family='"Liberation Sans", sans-serif' font-size="10.6" letter-spacing="0.723" fill="#111" stroke="#111" stroke-width="0.18">Q9</text>
<text transform="translate(451.22,187.7) scale(0.7800,1)" font-family='"Liberation Sans", sans-serif' font-size="10.6" letter-spacing="0.370" fill="#111" stroke="#111" stroke-width="0.18">BD</text>
<text transform="translate(448.61,198.4) scale(0.8580,1)" font-family='"Liberation Sans", sans-serif' font-size="10.6" letter-spacing="0.699" fill="#111" stroke="#111" stroke-width="0.18">135</text>
<text transform="translate(417.01,303.0) scale(0.9260,1)" font-family='"Liberation Sans", sans-serif' font-size="10.6" letter-spacing="0.648" fill="#111" stroke="#111" stroke-width="0.18">500</text>
<text transform="translate(474.80,248.1) scale(0.8398,1)" font-family='"Liberation Sans", sans-serif' font-size="10.6" letter-spacing="0.714" fill="#111" stroke="#111" stroke-width="0.18">470</text>
<text transform="translate(476.69,260.6) scale(0.7917,1)" font-family='"Liberation Sans", sans-serif' font-size="10.6" letter-spacing="0.758" fill="#111" stroke="#111" stroke-width="0.18">nF</text>
<text transform="translate(510.87,127.6) scale(0.8630,1)" font-family='"Liberation Sans", sans-serif' font-size="10.6" letter-spacing="0.695" fill="#111" stroke="#111" stroke-width="0.18">Q10</text>
<text transform="translate(500.46,143.4) scale(0.8167,1)" font-family='"Liberation Sans", sans-serif' font-size="10.6" letter-spacing="0.735" fill="#111" stroke="#111" stroke-width="0.18">2SC2705</text>
<text transform="translate(522.46,166.6) scale(0.9806,1)" font-family='"Liberation Sans", sans-serif' font-size="10.6" letter-spacing="0.612" fill="#111" stroke="#111" stroke-width="0.18">47</text>
<text transform="translate(510.67,232.6) scale(0.8181,1)" font-family='"Liberation Sans", sans-serif' font-size="10.6" letter-spacing="0.733" fill="#111" stroke="#111" stroke-width="0.18">390</text>
<text transform="translate(522.28,284.3) scale(0.9908,1)" font-family='"Liberation Sans", sans-serif' font-size="10.6" letter-spacing="0.606" fill="#111" stroke="#111" stroke-width="0.18">56</text>
<text transform="translate(580.28,161.79999999999998) scale(0.8368,1)" font-family='"Liberation Sans", sans-serif' font-size="10.6" letter-spacing="0.717" fill="#111" stroke="#111" stroke-width="0.18">Q12</text>
<text transform="translate(571.37,177.6) scale(0.8125,1)" font-family='"Liberation Sans", sans-serif' font-size="10.6" letter-spacing="0.738" fill="#111" stroke="#111" stroke-width="0.18">2SD1763</text>
<text transform="translate(550.61,214.29999999999998) scale(0.9592,1)" font-family='"Liberation Sans", sans-serif' font-size="10.6" letter-spacing="0.626" fill="#111" stroke="#111" stroke-width="0.18">3.3</text>
<text transform="translate(550.61,259.6) scale(0.9592,1)" font-family='"Liberation Sans", sans-serif' font-size="10.6" letter-spacing="0.626" fill="#111" stroke="#111" stroke-width="0.18">3.3</text>
<text transform="translate(615.54,224.79999999999998) scale(0.9123,1)" font-family='"Liberation Sans", sans-serif' font-size="10.6" letter-spacing="0.658" fill="#111" stroke="#111" stroke-width="0.18">Output</text>
<text transform="translate(576.45,290.0) scale(0.8393,1)" font-family='"Liberation Sans", sans-serif' font-size="10.6" letter-spacing="0.715" fill="#111" stroke="#111" stroke-width="0.18">2SB</text>
<text transform="translate(574.02,302.3) scale(0.9253,1)" font-family='"Liberation Serif", serif' font-size="12" letter-spacing="0.000" fill="#111" stroke="#111" stroke-width="0.18">1186</text>
<text transform="translate(502.36,329.90000000000003) scale(0.8279,1)" font-family='"Liberation Sans", sans-serif' font-size="10.6" letter-spacing="0.725" fill="#111" stroke="#111" stroke-width="0.18">2SA1145</text>
<text transform="translate(513.79,344.1) scale(0.8151,1)" font-family='"Liberation Sans", sans-serif' font-size="10.6" letter-spacing="0.736" fill="#111" stroke="#111" stroke-width="0.18">Q11</text>
<text transform="translate(105.58,331.8) scale(0.8275,1)" font-family='"Liberation Sans", sans-serif' font-size="10.6" letter-spacing="0.725" fill="#111" stroke="#111" stroke-width="0.18">Q3</text>
<text transform="translate(94.56,346.3) scale(0.8247,1)" font-family='"Liberation Sans", sans-serif' font-size="10.6" letter-spacing="0.728" fill="#111" stroke="#111" stroke-width="0.18">2SA1038</text>
<text transform="translate(71.53,373.8) scale(0.9304,1)" font-family='"Liberation Sans", sans-serif' font-size="10.6" letter-spacing="0.645" fill="#111" stroke="#111" stroke-width="0.18">Q4</text>
<text transform="translate(62.07,389.6) scale(0.8143,1)" font-family='"Liberation Sans", sans-serif' font-size="10.6" letter-spacing="0.737" fill="#111" stroke="#111" stroke-width="0.18">2SC2389</text>
<text transform="translate(68.64,430.1) scale(0.8190,1)" font-family='"Liberation Sans", sans-serif' font-size="10.6" letter-spacing="0.733" fill="#111" stroke="#111" stroke-width="0.18">1.8K</text>
<text transform="translate(199.62,429.3) scale(0.7800,1)" font-family='"Liberation Sans", sans-serif' font-size="10.6" letter-spacing="0.648" fill="#111" stroke="#111" stroke-width="0.18">11K</text>
<text transform="translate(316.05,373.8) scale(0.9031,1)" font-family='"Liberation Sans", sans-serif' font-size="10.6" letter-spacing="0.664" fill="#111" stroke="#111" stroke-width="0.18">Q8</text>
<text transform="translate(301.56,389.6) scale(0.8306,1)" font-family='"Liberation Sans", sans-serif' font-size="10.6" letter-spacing="0.722" fill="#111" stroke="#111" stroke-width="0.18">2SC2705</text>
<text transform="translate(309.90,434.6) scale(0.8626,1)" font-family='"Liberation Sans", sans-serif' font-size="10.6" letter-spacing="0.696" fill="#111" stroke="#111" stroke-width="0.18">390</text>
<text transform="translate(396.09,413.8) scale(0.8113,1)" font-family='"Liberation Sans", sans-serif' font-size="10.6" letter-spacing="0.740" fill="#111" stroke="#111" stroke-width="0.18">10K</text>
<text transform="translate(626.00,458.8) scale(0.8068,1)" font-family='"Liberation Sans", sans-serif' font-size="10.6" letter-spacing="0.744" fill="#111" stroke="#111" stroke-width="0.18">–24VDC</text>
<text transform="translate(218.98,506.1) scale(0.7928,1)" font-family='"Liberation Sans", sans-serif' font-size="10.6" letter-spacing="0.757" fill="#111" stroke="#111" stroke-width="0.18">All resistors are 1/4W metal film.</text>
<text transform="translate(218.98,519.1) scale(0.8121,1)" font-family='"Liberation Sans", sans-serif' font-size="10.6" letter-spacing="0.739" fill="#111" stroke="#111" stroke-width="0.18">All capacitors are fim types.</text>
<text transform="translate(449.81,483.8) scale(0.7800,1)" font-family='"Liberation Sans", sans-serif' font-size="10.6" letter-spacing="0.713" fill="#111" stroke="#111" stroke-width="0.18">470 nF</text>
<text transform="translate(448.07,542.8000000000001) scale(0.8504,1)" font-family='"Liberation Sans", sans-serif' font-size="10.6" letter-spacing="0.706" fill="#111" stroke="#111" stroke-width="0.18">OPA2134</text>
<text transform="translate(517.44,514.7) scale(0.8998,1)" font-family='"Liberation Sans", sans-serif' font-size="10.6" letter-spacing="0.667" fill="#111" stroke="#111" stroke-width="0.18">33K</text>
<text transform="translate(561.26,514.7) scale(0.8398,1)" font-family='"Liberation Sans", sans-serif' font-size="10.6" letter-spacing="0.714" fill="#111" stroke="#111" stroke-width="0.18">33K</text>
<text transform="translate(554.87,550.2) scale(0.9337,1)" font-family='"Liberation Sans", sans-serif' font-size="10.6" letter-spacing="0.643" fill="#111" stroke="#111" stroke-width="0.18">470</text>
<text transform="translate(557.55,562.7) scale(0.9251,1)" font-family='"Liberation Sans", sans-serif' font-size="10.6" letter-spacing="0.649" fill="#111" stroke="#111" stroke-width="0.18">nF</text>
<line x1="483.5" y1="525.5" x2="489.3" y2="525.5" stroke="#222" stroke-width="1.2"/>
<line x1="483.5" y1="554" x2="489.7" y2="554" stroke="#222" stroke-width="1.2"/>
<line x1="486.6" y1="550.8" x2="486.6" y2="557.2" stroke="#222" stroke-width="1.2"/>
<rect x="255" y="282" width="225" height="24.5" fill="#fff" fill-opacity="0.2"/>
<g style="mix-blend-mode:multiply">
<text transform="translate(261.68,302.4) scale(0.7031,1)" font-family='"Liberation Serif", serif' font-size="25" letter-spacing="0.000" fill="rgb(238,150,150)" stroke="rgb(238,150,150)" stroke-width="0.25">w</text>
<text transform="translate(275.68,302.4) scale(0.7031,1)" font-family='"Liberation Serif", serif' font-size="25" letter-spacing="0.000" fill="rgb(238,150,150)" stroke="rgb(238,150,150)" stroke-width="0.25">w</text>
<text transform="translate(289.68,302.4) scale(0.7031,1)" font-family='"Liberation Serif", serif' font-size="25" letter-spacing="0.000" fill="rgb(238,150,150)" stroke="rgb(238,150,150)" stroke-width="0.25">w</text>
<text transform="translate(304.16,302.4) scale(0.8124,1)" font-family='"Liberation Serif", serif' font-size="25" letter-spacing="0.000" fill="rgb(238,150,150)" stroke="rgb(238,150,150)" stroke-width="0.25">.</text>
<text transform="translate(317.50,302.4) scale(0.9919,1)" font-family='"Liberation Serif", serif' font-size="25" letter-spacing="0.000" fill="rgb(238,150,150)" stroke="rgb(238,150,150)" stroke-width="0.25">d</text>
<text transform="translate(335.53,302.4) scale(0.7065,1)" font-family='"Liberation Serif", serif' font-size="25" letter-spacing="0.000" fill="rgb(238,150,150)" stroke="rgb(238,150,150)" stroke-width="0.25">i</text>
<text transform="translate(345.82,302.4) scale(1.0632,1)" font-family='"Liberation Serif", serif' font-size="25" letter-spacing="0.000" fill="rgb(238,150,150)" stroke="rgb(238,150,150)" stroke-width="0.25">a</text>
<text transform="translate(359.95,302.4) scale(0.9526,1)" font-family='"Liberation Serif", serif' font-size="25" letter-spacing="0.000" fill="rgb(238,150,150)" stroke="rgb(238,150,150)" stroke-width="0.25">n</text>
<text transform="translate(377.08,302.4) scale(0.8411,1)" font-family='"Liberation Serif", serif' font-size="25" letter-spacing="0.000" fill="rgb(238,150,150)" stroke="rgb(238,150,150)" stroke-width="0.25">l</text>
<text transform="translate(388.09,302.4) scale(0.9537,1)" font-family='"Liberation Serif", serif' font-size="25" letter-spacing="0.000" fill="rgb(238,150,150)" stroke="rgb(238,150,150)" stroke-width="0.25">u</text>
<text transform="translate(403.92,302.4) scale(1.1594,1)" font-family='"Liberation Serif", serif' font-size="25" letter-spacing="0.000" fill="rgb(238,150,150)" stroke="rgb(238,150,150)" stroke-width="0.25">t</text>
<text transform="translate(416.16,302.4) scale(0.8124,1)" font-family='"Liberation Serif", serif' font-size="25" letter-spacing="0.000" fill="rgb(238,150,150)" stroke="rgb(238,150,150)" stroke-width="0.25">.</text>
<text transform="translate(431.07,302.4) scale(0.8747,1)" font-family='"Liberation Serif", serif' font-size="25" letter-spacing="0.000" fill="rgb(238,150,150)" stroke="rgb(238,150,150)" stroke-width="0.25">c</text>
<text transform="translate(444.34,302.4) scale(0.9060,1)" font-family='"Liberation Serif", serif' font-size="25" letter-spacing="0.000" fill="rgb(238,150,150)" stroke="rgb(238,150,150)" stroke-width="0.25">o</text>
<text transform="translate(456.92,302.4) scale(0.7231,1)" font-family='"Liberation Serif", serif' font-size="25" letter-spacing="0.000" fill="rgb(238,150,150)" stroke="rgb(238,150,150)" stroke-width="0.25">m</text>
</g>
</svg>
</body></html>
